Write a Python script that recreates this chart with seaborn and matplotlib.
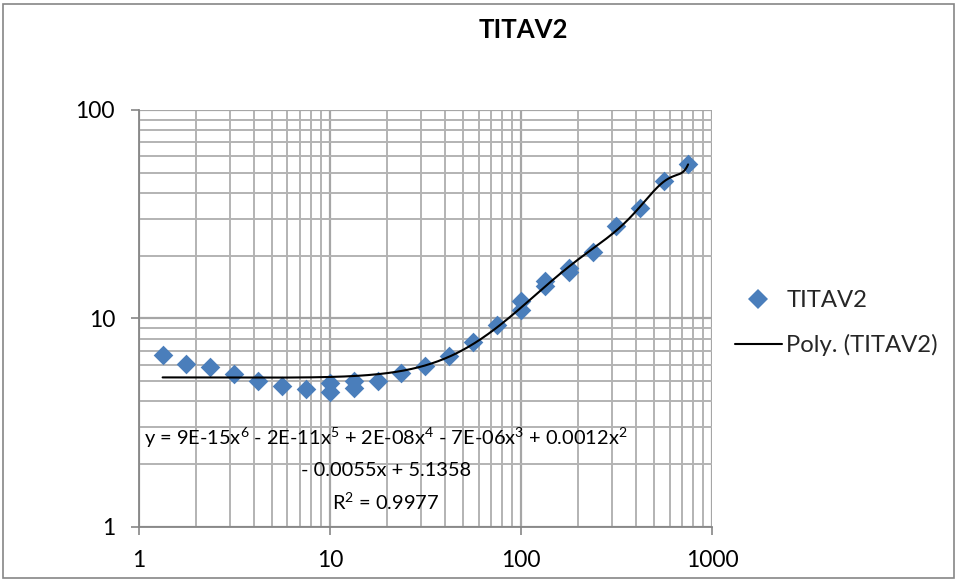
import numpy as np
import pandas as pd
import matplotlib
matplotlib.use("Agg")
import matplotlib.pyplot as plt
import seaborn as sns
from matplotlib.ticker import FixedLocator, FixedFormatter, LogLocator, NullFormatter
from matplotlib.lines import Line2D
from matplotlib.patches import Rectangle

# ---------------- data ----------------
series_name = "TITAV2"
trend_name = "Poly. (TITAV2)"
x_vals = [1.334, 1.778, 2.371, 3.162, 4.217, 5.623, 7.499, 10.0, 10.0,
          13.34, 13.34, 17.78, 23.71, 31.62, 42.17, 56.23, 74.99, 100.0, 100.0,
          133.4, 133.4, 177.8, 177.8, 237.1, 316.2, 421.7, 562.3, 749.9]
y_vals = [6.69, 6.04, 5.81, 5.41, 4.98, 4.75, 4.58, 4.89, 4.41,
          4.98, 4.63, 4.98, 5.46, 5.92, 6.62, 7.67, 9.33, 12.07, 11.01,
          15.06, 14.25, 17.47, 16.64, 20.76, 27.69, 33.96, 45.56, 54.8]
x_ticks = [1, 10, 100, 1000]
x_tick_labels = ["1", "10", "100", "1000"]
y_ticks = [1, 10, 100]
y_tick_labels = ["1", "10", "100"]
eq_lines = ["y = 9E-15x$^{6}$ - 2E-11x$^{5}$ + 2E-08x$^{4}$ - 7E-06x$^{3}$ + 0.0012x$^{2}$",
            "- 0.0055x + 5.1358",
            "R$^{2}$ = 0.9977"]

df = pd.DataFrame({"x": x_vals, "y": y_vals})

# polynomial (order 6) trendline fitted to the data, as Excel does
poly = np.polynomial.Polynomial.fit(df["x"], df["y"], 6)
xs = np.geomspace(df["x"].min(), df["x"].max(), 400)
trend = pd.DataFrame({"x": xs, "y": poly(xs)})

# ---------------- figure ----------------
sns.set_theme(style="white")
plt.rcParams["font.family"] = ["Lato", "DejaVu Sans"]
plt.rcParams["mathtext.fontset"] = "custom"
plt.rcParams["mathtext.rm"] = "Lato"
plt.rcParams["mathtext.it"] = "Lato:italic"
plt.rcParams["mathtext.bf"] = "Lato:bold"

W, H = 957, 581
fig = plt.figure(figsize=(W / 100, H / 100), dpi=100)
fig.patch.set_facecolor("white")

left, right, top, bottom = 138.7, 712.0, 110.0, 526.7
ax = fig.add_axes([left / W, 1 - bottom / H, (right - left) / W, (bottom - top) / H])
ax.set_facecolor("white")

ax.set_xscale("log")
ax.set_yscale("log")
ax.set_xlim(1, 1000)
ax.set_ylim(1, 100)

ax.xaxis.set_minor_locator(LogLocator(base=10, subs=np.arange(2, 10), numticks=20))
ax.yaxis.set_minor_locator(LogLocator(base=10, subs=np.arange(2, 10), numticks=20))
ax.xaxis.set_minor_formatter(NullFormatter())
ax.yaxis.set_minor_formatter(NullFormatter())
ax.grid(which="major", color="#a6a6a6", linewidth=1.6)
ax.grid(which="minor", color="#b3b3b3", linewidth=1.4)
ax.set_axisbelow(True)

sns.lineplot(data=trend, x="x", y="y", color="black", linewidth=1.5,
             estimator=None, sort=False, ax=ax, legend=False, zorder=3)
sns.scatterplot(data=df, x="x", y="y", marker="D", s=100, color="#4a7ebb",
                linewidth=0, ax=ax, legend=False, zorder=2)

ax.xaxis.set_major_locator(FixedLocator(x_ticks))
ax.xaxis.set_major_formatter(FixedFormatter(x_tick_labels))
ax.yaxis.set_major_locator(FixedLocator(y_ticks))
ax.yaxis.set_major_formatter(FixedFormatter(y_tick_labels))
ax.tick_params(which="major", direction="out", length=6, width=1.2, color="#868686",
               labelsize=16.5, labelcolor="black", pad=11, bottom=True, left=True)
ax.tick_params(which="minor", length=0)
ax.set_xlabel("")
ax.set_ylabel("")

for s in ["top", "right"]:
    ax.spines[s].set_visible(False)
for s in ["left", "bottom"]:
    ax.spines[s].set_color("#868686")
    ax.spines[s].set_linewidth(1.3)

# title
fig.text(523 / W, 1 - 30 / H, "TITAV2", ha="center", va="center",
         fontsize=18.5, fontweight="bold", color="black")

# trendline equation
for txt, yp in zip(eq_lines, [438, 470, 502]):
    fig.text(386 / W, 1 - yp / H, txt, ha="center", va="center",
             fontsize=14.4, color="black")

# legend
handles = [Line2D([], [], marker="D", linestyle="none", markersize=10,
                  markerfacecolor="#4a7ebb", markeredgewidth=0),
           Line2D([], [], color="black", linewidth=1.5)]
leg = fig.legend(handles, [series_name, trend_name], loc="center left",
                 bbox_to_anchor=(723 / W, 1 - 323 / H), frameon=False,
                 fontsize=17.2, handlelength=1.95, handletextpad=0.2,
                 labelspacing=0.95, borderpad=0)

# outer chart border
fig.patches.append(Rectangle((3 / W, 3 / H), 1 - 6 / W, 1 - 7 / H,
                             transform=fig.transFigure, fill=False,
                             edgecolor="#868686", linewidth=1.2))

fig.savefig("out.png", dpi=100, facecolor="white")
